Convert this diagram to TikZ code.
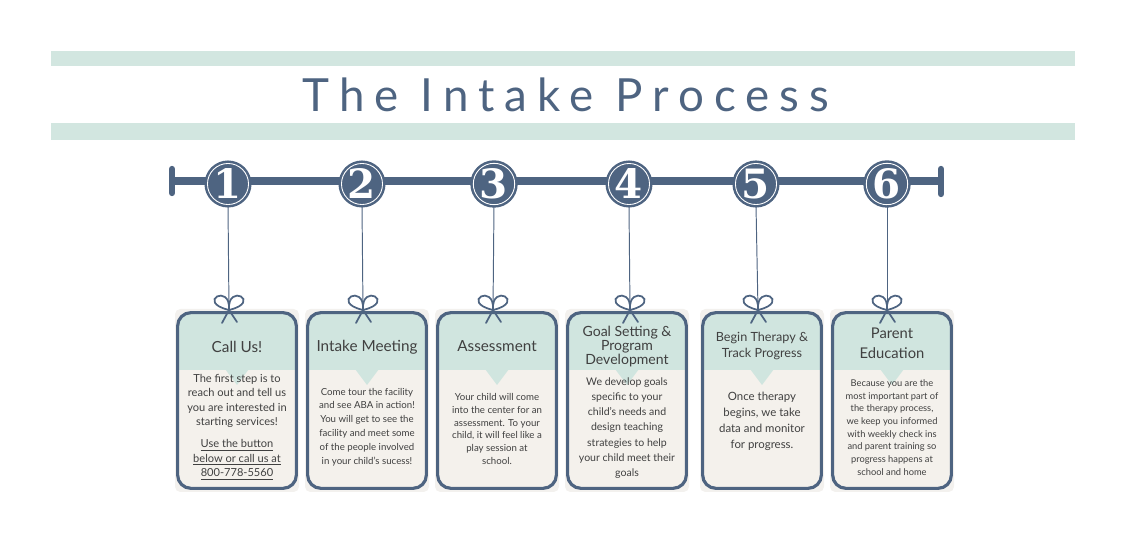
\documentclass[tikz,border=0pt]{standalone}
\usepackage{fontspec}
\setmainfont{Lato}
\newfontfamily\titlefont[LetterSpace=22]{Lato}
\newfontfamily\numfont{DejaVu Serif}
\usepackage{xcolor}
\usetikzlibrary{positioning,calc}

\definecolor{ink}{HTML}{4E6481}
\definecolor{bandteal}{HTML}{D2E6E0}
\definecolor{headteal}{HTML}{D0E5DF}
\definecolor{cardbg}{HTML}{F4F1EC}
\definecolor{cardshadow}{HTML}{F3F1EE}
\definecolor{txt}{HTML}{404040}

\begin{document}
\begin{tikzpicture}[x=0.02cm, y=-0.02cm,
        band/.style={fill=bandteal},
        stepnum/.style={circle, minimum size=0.8cm, inner sep=0pt, fill=ink, draw=white, line width=0.5pt,
            preaction={draw=ink, line width=3.4pt}, text=white, font=\numfont\bfseries\fontsize{23}{23}\selectfont},
        string/.style={draw=ink, line width=0.55pt},
        bowline/.style={draw=ink, line width=1pt, line cap=round},
        card/.style={rectangle, minimum width=2.36cm, minimum height=3.5cm, inner sep=0pt},
        cardline/.style={draw=ink, line width=1.8pt, rounded corners=7.5pt},
        cardtitle/.style={align=center, text=txt, inner sep=0pt, font=\fontsize{8.7}{11}\selectfont},
        bodytext/.style={align=center, text=txt, inner sep=0pt}]
    \useasboundingbox (0,0) rectangle (1127,540);

    % Title
    \fill[band] (51,51) rectangle (1075,66);
    \fill[band] (51,123) rectangle (1075,140);
    \node[text=ink, font=\titlefont\fontsize{26}{30}\selectfont] (title) at (566,95) {The Intake Process};

    % Timeline
    \draw[ink, line width=4pt] (172,181) -- (941,181);
    \draw[ink, line width=3.6pt, line cap=round] (172,169) -- (172,193);
    \draw[ink, line width=3.6pt, line cap=round] (941,169) -- (941,194);

    % Steps, strings, bows and cards
    \foreach \i/\nx/\kx/\cx in {1/228/229/237, 2/362/363/367, 3/494/493/497, 4/629/630/627, 5/756/758/762, 6/887/887/892} {
        \fill[cardshadow, rounded corners=3pt] (\cx-62,309) rectangle (\cx+62,492);
        \node[card] (c\i) at (\cx,400.5) {};
        \fill[cardbg, rounded corners=7.5pt] (c\i.north west) rectangle (c\i.south east);
        \begin{scope}
            \clip[rounded corners=7.5pt] (c\i.north west) rectangle (c\i.south east);
            \fill[headteal] (c\i.north west) rectangle ($(c\i.north east)+(0,57)$);
        \end{scope}
        \fill[headteal] (\cx-12,369) -- (\cx,385) -- (\cx+12,369) -- cycle;
        \draw[cardline] (c\i.north west) rectangle (c\i.south east);
        \node[stepnum] (n\i) at (\nx,184) {\i};
        \coordinate (k\i) at (\kx,310);
        \draw[string] (n\i.south) -- (k\i);
        % bow
        \draw[bowline] (k\i) .. controls +(2,-28) and +(-34,-8) .. (k\i);
        \draw[bowline] (k\i) .. controls +(-2,-28) and +(34,-8) .. (k\i);
        \draw[bowline] (k\i) -- ++(-7,13);
        \draw[bowline] (k\i) -- ++(8,12);
    }

    % Card texts
    \node[cardtitle] (t1) at (237,347) {Call Us!};
    \node[bodytext, font=\fontsize{6.3}{8.2}\selectfont] (b1) at (237,401) {The first step is to\\reach out and tell us\\you are interested in\\starting services!};
    \node[bodytext, font=\fontsize{6.3}{8.2}\selectfont] (u1) at (237,460) {\underline{Use the button}\\\underline{below or call us at}\\\underline{800-778-5560}};

    \node[cardtitle] (t2) at (367,347) {Intake Meeting};
    \node[bodytext, font=\fontsize{5.5}{7.9}\selectfont] (b2) at (367,427) {Come tour the facility\\and see ABA in action!\\You will get to see the\\facility and meet some\\of the people involved\\in your child's sucess!};

    \node[cardtitle] (t3) at (497,346) {Assessment};
    \node[bodytext, font=\fontsize{5.5}{7.25}\selectfont] (b3) at (497,429) {Your child will come\\into the center for an\\assessment. To your\\child, it will feel like a\\play session at\\school.};

    \node[cardtitle, font=\fontsize{8}{8.2}\selectfont] (t4) at (627,346.5) {Goal Setting \&\\Program\\Development};
    \node[bodytext, font=\fontsize{6}{8.7}\selectfont] (b4) at (627,428) {We develop goals\\specific to your\\child's needs and\\design teaching\\strategies to help\\your child meet their\\goals};

    \node[cardtitle, font=\fontsize{7.2}{9.1}\selectfont] (t5) at (762,346) {Begin Therapy \&\\Track Progress};
    \node[bodytext, font=\fontsize{6.5}{9.2}\selectfont] (b5) at (762,421.5) {Once therapy\\begins, we take\\data and monitor\\for progress.};

    \node[cardtitle, font=\fontsize{8.4}{11.3}\selectfont] (t6) at (892,343) {Parent\\Education};
    \node[bodytext, font=\fontsize{5.3}{7.2}\selectfont] (b6) at (892,427.5) {Because you are the\\most important part of\\the therapy process,\\we keep you informed\\with weekly check ins\\and parent training so\\progress happens at\\school and home};
\end{tikzpicture}
\end{document}
